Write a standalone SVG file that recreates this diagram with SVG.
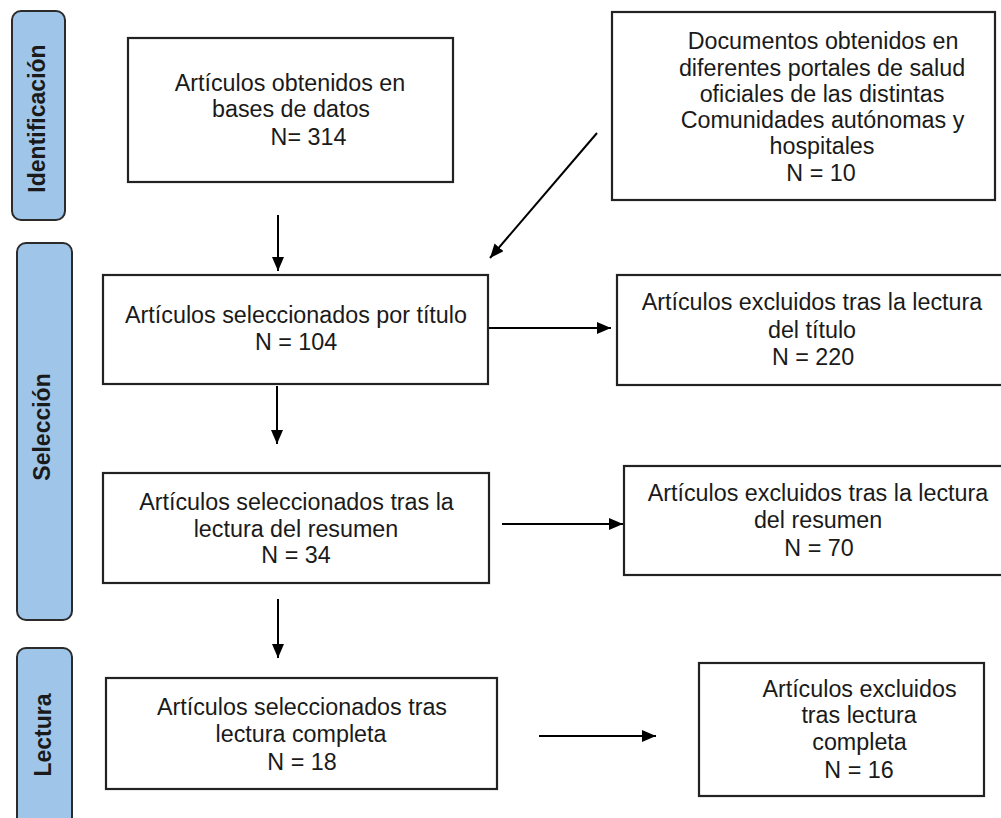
<svg xmlns="http://www.w3.org/2000/svg" width="1001" height="818" viewBox="0 0 1001 818">
<style>
.bar{fill:#9fc5e8;stroke:#2b2b2b;stroke-width:2}
.box{fill:#ffffff;stroke:#222;stroke-width:2.2}
.t{font-family:"Liberation Sans",Arial,sans-serif;font-size:23.3px;fill:#1a1a1a;text-anchor:middle}
.s{font-family:"Liberation Sans",Arial,sans-serif;font-size:23px;font-weight:bold;fill:#1a1a1a;text-anchor:middle}
.c{stroke:#000;stroke-width:2;fill:none;marker-end:url(#ah)}
</style>
<defs>
<marker id="ah" markerUnits="userSpaceOnUse" markerWidth="16" markerHeight="14" refX="14" refY="6" orient="auto">
<path d="M0,0 L14,6 L0,12 z" fill="#000"/>
</marker>
</defs>
<rect width="1001" height="818" fill="#ffffff"/>

<g id="phase-identificacion">
<rect class="bar" x="12" y="11" width="53" height="209" rx="9"/>
<text class="s" transform="translate(44.5,118.5) rotate(-90)">Identificación</text>
</g>
<g id="phase-seleccion">
<rect class="bar" x="17" y="243" width="55" height="377" rx="9"/>
<text class="s" transform="translate(50,427) rotate(-90)">Selección</text>
</g>
<g id="phase-lectura">
<rect class="bar" x="17" y="648" width="55" height="185" rx="9"/>
<text class="s" transform="translate(51,735) rotate(-90)">Lectura</text>
</g>

<g id="connectors">
<line class="c" x1="278" y1="215" x2="278" y2="271"/>
<line class="c" x1="597" y1="133" x2="490" y2="258"/>
<line class="c" x1="489" y1="328" x2="611" y2="328"/>
<line class="c" x1="277" y1="386" x2="277" y2="444"/>
<line class="c" x1="502" y1="524" x2="623" y2="524"/>
<line class="c" x1="278" y1="599" x2="278" y2="658"/>
<line class="c" x1="539" y1="736" x2="656" y2="736"/>
</g>

<g id="box-bases-datos">
<rect class="box" x="128" y="38" width="325" height="144"/>
<text class="t" x="290" y="91">Artículos obtenidos en</text>
<text class="t" x="291" y="117">bases de datos</text>
<text class="t" x="308.5" y="145">N= 314</text>
</g>

<g id="box-portales">
<rect class="box" x="612" y="12" width="383" height="188"/>
<text class="t" x="823" y="49">Documentos obtenidos en</text>
<text class="t" x="822" y="75.5">diferentes portales de salud</text>
<text class="t" x="822" y="102">oficiales de las distintas</text>
<text class="t" x="822.5" y="128">Comunidades autónomas y</text>
<text class="t" x="822" y="154">hospitales</text>
<text class="t" x="821" y="181">N = 10</text>
</g>

<g id="box-sel-titulo">
<rect class="box" x="103" y="275" width="385" height="109"/>
<text class="t" x="296" y="323">Artículos seleccionados por título</text>
<text class="t" x="296" y="350">N = 104</text>
</g>

<g id="box-excl-titulo">
<rect class="box" x="617" y="275" width="390" height="110"/>
<text class="t" x="812" y="310">Artículos excluidos tras la lectura</text>
<text class="t" x="812" y="338">del título</text>
<text class="t" x="813" y="365">N = 220</text>
</g>

<g id="box-sel-resumen">
<rect class="box" x="103" y="473" width="386" height="110"/>
<text class="t" x="296.5" y="510">Artículos seleccionados tras la</text>
<text class="t" x="296" y="537">lectura del resumen</text>
<text class="t" x="296" y="563">N = 34</text>
</g>

<g id="box-excl-resumen">
<rect class="box" x="624" y="466" width="385" height="109"/>
<text class="t" x="818" y="501">Artículos excluidos tras la lectura</text>
<text class="t" x="818" y="528">del resumen</text>
<text class="t" x="819" y="556">N = 70</text>
</g>

<g id="box-sel-completa">
<rect class="box" x="106" y="678" width="391" height="111"/>
<text class="t" x="302" y="715">Artículos seleccionados tras</text>
<text class="t" x="301" y="742">lectura completa</text>
<text class="t" x="302" y="770">N = 18</text>
</g>

<g id="box-excl-completa">
<rect class="box" x="699" y="663" width="285" height="133"/>
<text class="t" x="859.5" y="697">Artículos excluidos</text>
<text class="t" x="859" y="723">tras lectura</text>
<text class="t" x="859.5" y="750">completa</text>
<text class="t" x="859" y="778">N = 16</text>
</g>
</svg>
